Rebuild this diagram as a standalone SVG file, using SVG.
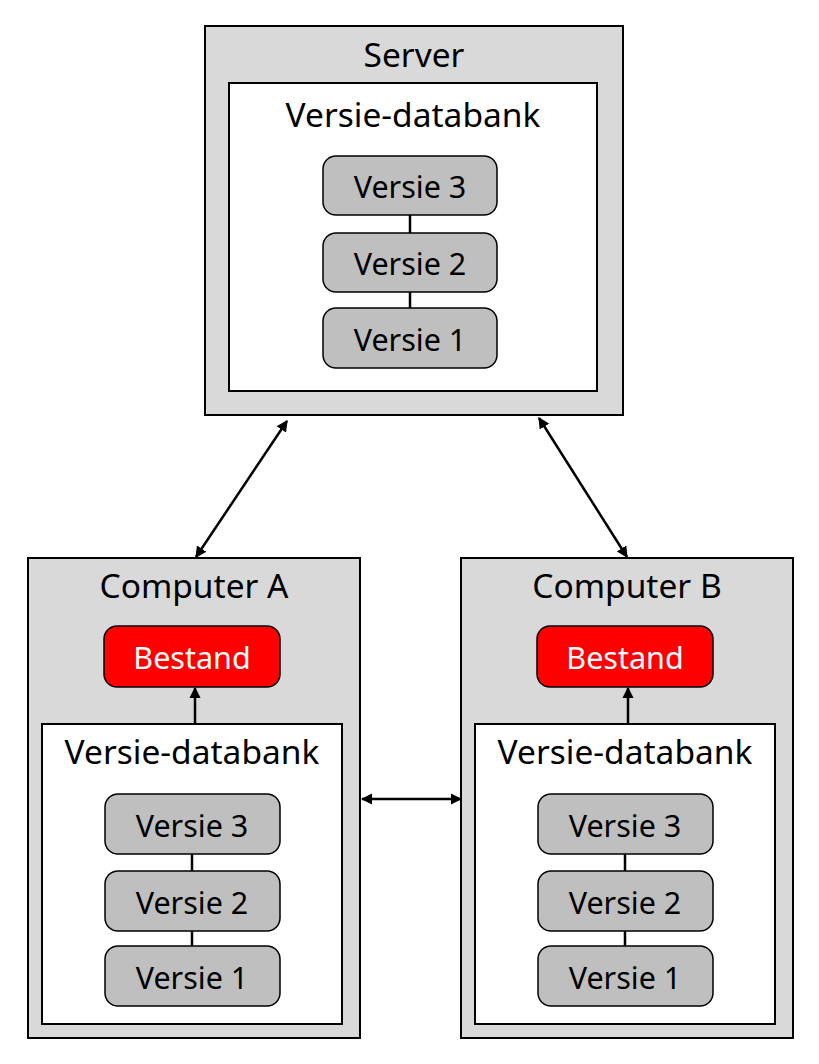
<svg xmlns="http://www.w3.org/2000/svg" width="819" height="1064" viewBox="0 0 819 1064">
<defs>
<marker id="ah" viewBox="0 0 10 10" refX="9" refY="5" markerWidth="4.5" markerHeight="4.5" orient="auto-start-reverse" markerUnits="strokeWidth">
<path d="M0,0 L10,5 L0,10 z" fill="#000"/>
</marker>
<style>
.outer{fill:#d9d9d9;stroke:#000;stroke-width:2}
.inner{fill:#fff;stroke:#000;stroke-width:2}
.ver{fill:#bfbfbf;stroke:#000;stroke-width:1.5}
.best{fill:#ff0000;stroke:#000;stroke-width:1.5}
text{font-family:"Noto Sans","Open Sans","DejaVu Sans",sans-serif;text-anchor:middle;dominant-baseline:central;fill:#000}
.t1{font-size:33.5px}
.t2{font-size:30.5px}
.tw{fill:#fff}
.ln{stroke:#000;stroke-width:2.5;fill:none}
.arr{stroke:#000;stroke-width:2.5;fill:none;marker-start:url(#ah);marker-end:url(#ah)}
.arr1{stroke:#000;stroke-width:2.5;fill:none;marker-end:url(#ah)}
</style>
</defs>
<rect width="819" height="1064" fill="#fff"/>
<g id="server">
<rect class="outer" x="205" y="26" width="418" height="389"/>
<text class="t1" x="414" y="54">Server</text>
<rect class="inner" x="229" y="83" width="368" height="308"/>
<text class="t1" x="413" y="114">Versie-databank</text>
</g>
<g id="computerA">
<rect class="outer" x="28" y="558" width="332" height="480"/>
<text class="t1" x="194" y="585">Computer A</text>
<rect class="inner" x="42" y="724" width="300" height="300"/>
<text class="t1" x="192" y="751">Versie-databank</text>
</g>
<g id="computerB">
<rect class="outer" x="461" y="558" width="332" height="480"/>
<text class="t1" x="627" y="585">Computer B</text>
<rect class="inner" x="475" y="724" width="300" height="300"/>
<text class="t1" x="625" y="751">Versie-databank</text>
</g>
<g id="connectors">
<line class="ln" x1="410" y1="215" x2="410" y2="233"/>
<line class="ln" x1="410" y1="292" x2="410" y2="308"/>
<line class="ln" x1="192" y1="854" x2="192" y2="871"/>
<line class="ln" x1="192" y1="931" x2="192" y2="946"/>
<line class="ln" x1="625" y1="854" x2="625" y2="871"/>
<line class="ln" x1="625" y1="931" x2="625" y2="946"/>
<line class="arr" x1="287" y1="421" x2="196" y2="557"/>
<line class="arr" x1="539" y1="418" x2="627" y2="557"/>
<line class="arr" x1="362" y1="799" x2="461" y2="799"/>
<line class="arr1" x1="195" y1="724" x2="195" y2="688"/>
<line class="arr1" x1="628" y1="724" x2="628" y2="688"/>
</g>
<g id="s-v3"><rect class="ver" x="323" y="156" width="174" height="59" rx="13"/><text class="t2" x="410" y="186">Versie 3</text></g>
<g id="s-v2"><rect class="ver" x="323" y="233" width="174" height="59" rx="13"/><text class="t2" x="410" y="263">Versie 2</text></g>
<g id="s-v1"><rect class="ver" x="323" y="308" width="174" height="60" rx="13"/><text class="t2" x="410" y="339">Versie 1</text></g>
<g id="a-best"><rect class="best" x="104" y="626" width="176" height="61" rx="13"/><text class="t2 tw" x="192" y="657">Bestand</text></g>
<g id="a-v3"><rect class="ver" x="105" y="794" width="175" height="60" rx="13"/><text class="t2" x="192" y="825">Versie 3</text></g>
<g id="a-v2"><rect class="ver" x="105" y="871" width="175" height="60" rx="13"/><text class="t2" x="192" y="902">Versie 2</text></g>
<g id="a-v1"><rect class="ver" x="105" y="946" width="175" height="60" rx="13"/><text class="t2" x="192" y="977">Versie 1</text></g>
<g id="b-best"><rect class="best" x="537" y="626" width="176" height="61" rx="13"/><text class="t2 tw" x="625" y="657">Bestand</text></g>
<g id="b-v3"><rect class="ver" x="538" y="794" width="175" height="60" rx="13"/><text class="t2" x="625" y="825">Versie 3</text></g>
<g id="b-v2"><rect class="ver" x="538" y="871" width="175" height="60" rx="13"/><text class="t2" x="625" y="902">Versie 2</text></g>
<g id="b-v1"><rect class="ver" x="538" y="946" width="175" height="60" rx="13"/><text class="t2" x="625" y="977">Versie 1</text></g>
</svg>
